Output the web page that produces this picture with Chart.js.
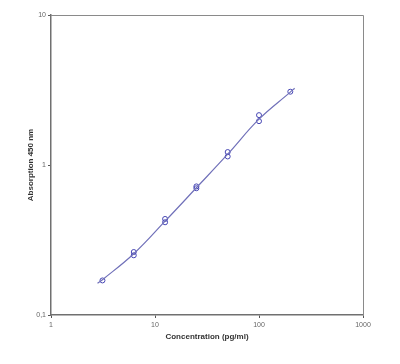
<!DOCTYPE html>
<html><head><meta charset="utf-8">
<script src="https://cdn.jsdelivr.net/npm/chart.js@4.4.1/dist/chart.umd.min.js"></script>
<style>html,body{margin:0;padding:0;background:#fff}#wrap{width:400px;height:364px}</style>
</head><body><div id="wrap"><canvas id="c" width="400" height="364"></canvas></div>
<script>
const concentrations = [3.125, 6.25, 6.25, 12.5, 12.5, 25, 25, 50, 50, 100, 100, 200];
const absorbance    = [0.17, 0.263, 0.25, 0.437, 0.415, 0.72, 0.70, 1.22, 1.14, 2.15, 1.96, 3.08];
const curveX = [2.8, 3.125, 6.25, 12.5, 25, 50, 100, 200, 220];
const curveY = [0.163, 0.172, 0.256, 0.422, 0.705, 1.18, 2.02, 3.06, 3.25];
const xTicks = [1, 10, 100, 1000];
const yTicks = [0.1, 1, 10];
const yTickLabels = ['0,1', '1', '10'];

const frame = {
  id: 'frame',
  afterDraw(chart) {
    const a = chart.chartArea, ctx = chart.ctx;
    ctx.save();
    ctx.strokeStyle = '#8a8a8a';
    ctx.lineWidth = 1;
    ctx.beginPath();
    ctx.moveTo(a.left, a.top + 0.5); ctx.lineTo(a.right + 0.5, a.top + 0.5);
    ctx.lineTo(a.right + 0.5, a.bottom);
    ctx.stroke();
    ctx.restore();
  }
};

new Chart(document.getElementById('c'), {
  type: 'scatter',
  data: {
    datasets: [
      {
        label: 'fit',
        data: curveX.map((x, i) => ({x, y: curveY[i]})),
        showLine: true,
        borderColor: 'rgb(112,112,185)',
        borderWidth: 1.2,
        pointRadius: 0,
        tension: 0.4,
        fill: false
      },
      {
        label: 'data',
        data: concentrations.map((x, i) => ({x, y: absorbance[i]})),
        showLine: false,
        pointStyle: 'circle',
        pointRadius: 2.5,
        borderColor: 'rgb(70,70,180)',
        backgroundColor: 'rgba(255,255,255,0)',
        borderWidth: 1
      }
    ]
  },
  options: {
    responsive: false,
    animation: false,
    layout: { padding: { left: 22, right: 37, top: 15, bottom: 18 } },
    plugins: { legend: { display: false }, tooltip: { enabled: false } },
    scales: {
      x: {
        type: 'logarithmic', min: 1, max: 1000,
        afterBuildTicks(s) { s.ticks = xTicks.map(v => ({value: v})); },
        afterFit(s) { s.height = 31; },
        ticks: {
          callback: (v) => String(v),
          font: { family: 'Liberation Sans', size: 7 }, color: '#666', padding: 3, maxRotation: 0
        },
        grid: { drawOnChartArea: false, tickLength: 3, color: '#555' },
        border: { color: '#707070', width: 1.5 },
        title: {
          display: true, text: 'Concentration (pg/ml)',
          font: { family: 'Liberation Sans', size: 8, weight: 'bold' }, color: '#333',
          padding: { top: 4, bottom: 4 }
        }
      },
      y: {
        type: 'logarithmic', min: 0.1, max: 10,
        afterBuildTicks(s) { s.ticks = yTicks.map(v => ({value: v})); },
        afterFit(s) { s.width = 29; },
        ticks: {
          callback: (v) => { const i = yTicks.indexOf(v); return i >= 0 ? yTickLabels[i] : ''; },
          font: { family: 'Liberation Sans', size: 7 }, color: '#666', padding: 2
        },
        grid: { drawOnChartArea: false, tickLength: 3, color: '#555' },
        border: { color: '#707070', width: 1.5 },
        title: {
          display: true, text: 'Absorption 450 nm',
          font: { family: 'Liberation Sans', size: 8, weight: 'bold' }, color: '#333',
          padding: { top: 4, bottom: 0 }
        }
      }
    }
  },
  plugins: [frame]
});
</script></body></html>
